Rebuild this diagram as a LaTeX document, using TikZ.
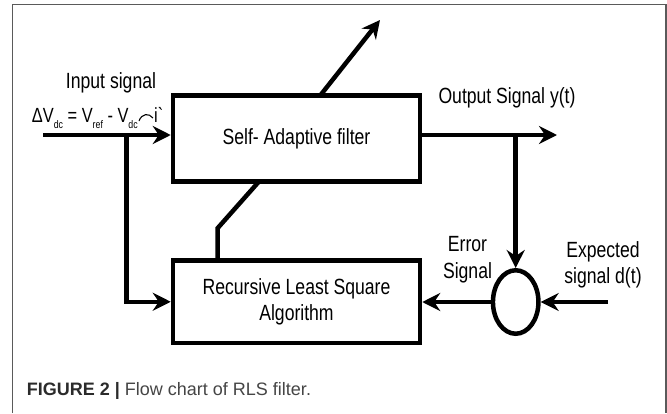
\documentclass[tikz,border=0pt]{standalone}
\usepackage{fontspec}
\setmainfont{Liberation Sans}
\newfontfamily\narrowsf[FakeStretch=0.8]{Liberation Sans}
\usetikzlibrary{arrows.meta,shapes.geometric,calc}
\definecolor{framegray}{HTML}{5A5A5A}
\definecolor{capdark}{HTML}{2B2B2B}
\definecolor{capgray}{HTML}{454545}
% lowered index in the signal formula
\newcommand\lowidx[1]{\raisebox{-6pt}{\fontsize{11}{11}\selectfont #1}}
\begin{document}
\begin{tikzpicture}[x=1pt,y=-1pt,
  wire/.style={line width=4.5pt},
  sig/.style={wire,-{Stealth[length=18pt,width=18pt,inset=6pt]}},
  block/.style={draw,rectangle,line width=4.5pt,inner sep=0pt,align=center,
    font=\narrowsf\fontsize{22}{26.5}\selectfont},
  lbl/.style={inner sep=0pt,align=center,font=\narrowsf\fontsize{22}{26.5}\selectfont}]
\useasboundingbox (0,0) rectangle (667,413);
\fill[white] (0,0) rectangle (667,413);

% open frame
\draw[framegray,line width=1.3pt] (12.3,413) -- (12.3,4.5) -- (666,4.5) -- (666,413);

% blocks
\node[block,minimum width=247pt,minimum height=86pt] (filter) at (296.5,138.5) {Self- Adaptive filter};
\node[block,minimum width=247pt,minimum height=82.5pt] (rls) at (296.5,301.75) {Recursive Least Square\\Algorithm};
\node[draw,ellipse,line width=4.5pt,inner sep=0pt,minimum width=45.5pt,minimum height=63.5pt] (sum) at (515.7,302) {};

% signal path coordinates
\coordinate (in) at (43,135);
\coordinate (split) at (126.7,135);
\coordinate (out) at (557,135);
\coordinate (tap) at (515.7,135);
\coordinate (expd) at (608,302);
\coordinate (bend) at (217.5,228.3);
\coordinate (fb) at (257,0);
\coordinate (vb) at (322,0);
\coordinate (vout) at (380,20);

% connectors
\draw[sig] (in) -- (in -| filter.west);
\draw[sig] (split) |- (rls.west);
\draw[sig] (out -| filter.east) -- (out);
\draw[sig] (tap) -- (sum.north);
\draw[sig] (sum.west) -- (sum.west -| rls.east);
\draw[sig] (expd) -- (sum.east);
\draw[wire,shorten >=-3pt] (rls.north -| bend) -- (bend) -- (filter.south -| fb);
\draw[sig,shorten <=-3pt] (filter.north -| vb) -- (vout);

% labels
\node[lbl,anchor=base] (inlbl) at (111,88) {Input signal};
\node[lbl,anchor=base west,font=\narrowsf\fontsize{20.5}{24}\selectfont] (dv) at (31.7,122)
  {ΔV\lowidx{dc} = V\lowidx{ref} - V\lowidx{dc}};
\draw[line width=1.1pt] ($(dv.base east)+(1,-1)$) .. controls +(3,-8) and +(-4,-5) .. ($(dv.base east)+(15,-4)$);
\node[lbl,anchor=base west,font=\narrowsf\fontsize{20.5}{24}\selectfont] (ii) at ($(dv.base east)+(16,0)$) {i\textasciigrave};
\node[lbl,anchor=base] (outlbl) at (507,103) {Output Signal y(t)};
\node[lbl] (errlbl) at (467.5,259.5) {Error\\Signal};
\node[lbl] (explbl) at (603,265) {Expected\\signal d(t)};

% caption
\node[anchor=base west,inner sep=0pt,font=\fontsize{18}{20}\selectfont,text=capgray] (cap) at (26.7,395)
  {\textcolor{capdark}{\textbf{FIGURE 2 |}} Flow chart of RLS filter.};
\end{tikzpicture}
\end{document}
